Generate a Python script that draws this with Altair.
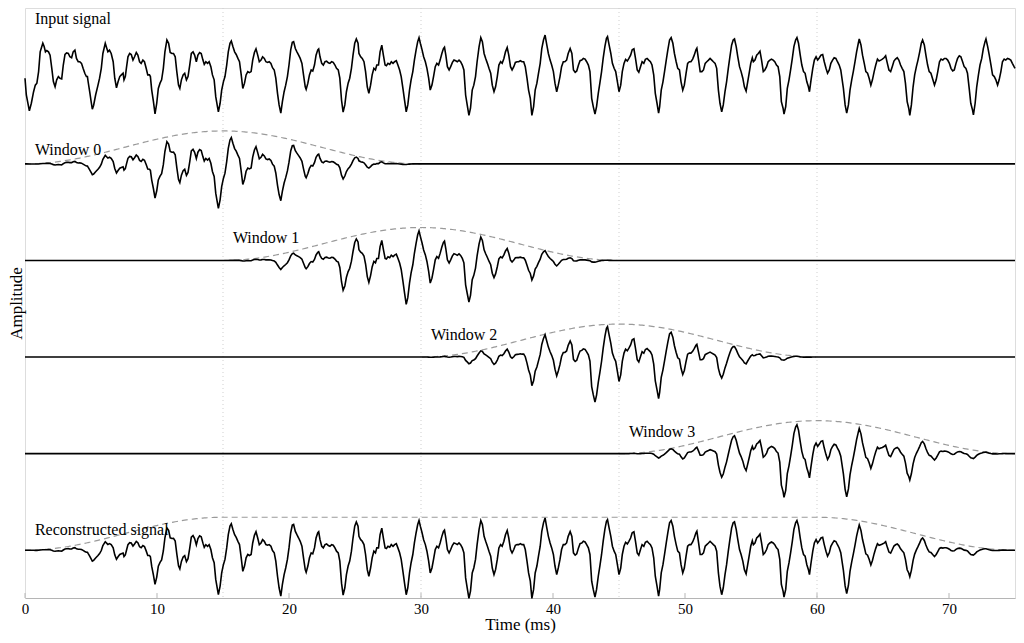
import altair as alt
import numpy as np
import pandas as pd

# ---- data (time in ms, amplitude in window-peak units) ----
t_ms = [
    0, 0.1, 0.33, 0.48, 0.65, 0.78, 0.9, 1.03, 1.15, 1.35,
    1.45, 1.55, 1.65, 1.78, 1.9, 2.03, 2.15, 2.28, 2.4, 2.53,
    2.65, 2.78, 2.9, 3.03, 3.15, 3.28, 3.4, 3.53, 3.65, 3.78,
    3.9, 4.03, 4.15, 4.28, 4.4, 4.53, 4.65, 4.73, 4.78, 4.9,
    5.03, 5.1, 5.2, 5.35, 5.53, 5.65, 5.78, 5.9, 6.08, 6.2,
    6.28, 6.4, 6.53, 6.68, 6.8, 6.93, 7.05, 7.18, 7.3, 7.43,
    7.5, 7.6, 7.68, 7.8, 7.93, 8.05, 8.18, 8.3, 8.43, 8.55,
    8.68, 8.8, 8.93, 9.05, 9.18, 9.3, 9.43, 9.5, 9.6, 9.73,
    9.85, 9.98, 10.1, 10.23, 10.35, 10.48, 10.6, 10.75, 10.88, 11.0,
    11.13, 11.25, 11.38, 11.5, 11.63, 11.73, 11.85, 11.98, 12.1, 12.23,
    12.35, 12.48, 12.6, 12.73, 12.85, 12.98, 13.1, 13.23, 13.35, 13.48,
    13.58, 13.7, 13.83, 13.95, 14.08, 14.2, 14.33, 14.45, 14.58, 14.65,
    14.78, 14.9, 15.03, 15.15, 15.28, 15.4, 15.53, 15.63, 15.75, 15.88,
    16.0, 16.13, 16.25, 16.38, 16.5, 16.63, 16.75, 16.88, 17.0, 17.13,
    17.25, 17.38, 17.5, 17.63, 17.75, 17.88, 18.0, 18.13, 18.25, 18.38,
    18.5, 18.63, 18.75, 18.88, 19.0, 19.13, 19.25, 19.38, 19.5, 19.63,
    19.75, 19.88, 20.0, 20.13, 20.25, 20.35, 20.48, 20.6, 20.73, 20.85,
    20.98, 21.1, 21.23, 21.3, 21.43, 21.55, 21.68, 21.8, 21.93, 22.05,
    22.18, 22.25, 22.35, 22.48, 22.6, 22.73, 22.85, 22.98, 23.1, 23.23,
    23.35, 23.48, 23.6, 23.73, 23.85, 23.98, 24.1, 24.23, 24.35, 24.48,
    24.6, 24.73, 24.85, 24.98, 25.1, 25.23, 25.3, 25.43, 25.55, 25.68,
    25.8, 25.93, 26.05, 26.18, 26.3, 26.43, 26.55, 26.65, 26.78, 26.9,
    27.03, 27.15, 27.28, 27.38, 27.5, 27.63, 27.75, 27.88, 28.0, 28.13,
    28.25, 28.38, 28.5, 28.63, 28.75, 28.88, 29.0, 29.13, 29.25, 29.38,
    29.5, 29.63, 29.75, 29.85, 29.95, 30.08, 30.2, 30.33, 30.45, 30.58,
    30.7, 30.83, 30.95, 31.08, 31.2, 31.33, 31.45, 31.58, 31.7, 31.78,
    31.88, 32.0, 32.13, 32.25, 32.38, 32.5, 32.63, 32.75, 32.88, 33.0,
    33.13, 33.25, 33.38, 33.5, 33.63, 33.75, 33.88, 34.0, 34.13, 34.25,
    34.4, 34.53, 34.65, 34.78, 34.9, 35.03, 35.15, 35.28, 35.4, 35.53,
    35.65, 35.78, 35.9, 36.03, 36.15, 36.28, 36.4, 36.53, 36.65, 36.78,
    36.9, 37.03, 37.15, 37.28, 37.4, 37.53, 37.65, 37.78, 37.9, 38.03,
    38.15, 38.28, 38.4, 38.53, 38.65, 38.78, 38.9, 39.03, 39.15, 39.28,
    39.4, 39.53, 39.65, 39.78, 39.9, 40.03, 40.15, 40.28, 40.4, 40.53,
    40.65, 40.78, 40.9, 41.03, 41.15, 41.3, 41.43, 41.55, 41.68, 41.8,
    41.93, 42.05, 42.18, 42.3, 42.43, 42.55, 42.68, 42.8, 42.93, 43.05,
    43.18, 43.3, 43.43, 43.55, 43.68, 43.8, 43.93, 44.05, 44.13, 44.25,
    44.38, 44.5, 44.63, 44.75, 44.88, 45.0, 45.13, 45.25, 45.38, 45.5,
    45.63, 45.75, 45.88, 46.0, 46.13, 46.25, 46.38, 46.5, 46.63, 46.75,
    46.88, 47.0, 47.13, 47.25, 47.38, 47.5, 47.63, 47.75, 47.88, 48.0,
    48.08, 48.2, 48.33, 48.45, 48.58, 48.7, 48.83, 48.95, 49.08, 49.2,
    49.33, 49.45, 49.58, 49.7, 49.83, 49.95, 50.08, 50.2, 50.33, 50.45,
    50.58, 50.7, 50.83, 50.9, 51.03, 51.15, 51.28, 51.4, 51.53, 51.65,
    51.78, 51.9, 52.03, 52.15, 52.28, 52.4, 52.53, 52.65, 52.78, 52.9,
    53.03, 53.15, 53.28, 53.4, 53.53, 53.65, 53.75, 53.88, 54.0, 54.13,
    54.25, 54.38, 54.5, 54.63, 54.75, 54.88, 54.98, 55.1, 55.18, 55.3,
    55.43, 55.55, 55.68, 55.8, 55.93, 56.05, 56.18, 56.3, 56.43, 56.55,
    56.68, 56.8, 56.93, 57.05, 57.18, 57.3, 57.43, 57.5, 57.63, 57.75,
    57.88, 58.0, 58.13, 58.25, 58.38, 58.48, 58.6, 58.73, 58.85, 58.98,
    59.1, 59.23, 59.35, 59.43, 59.55, 59.68, 59.8, 59.93, 60.05, 60.18,
    60.3, 60.43, 60.55, 60.68, 60.8, 60.93, 61.05, 61.18, 61.3, 61.43,
    61.55, 61.68, 61.8, 62.0, 62.13, 62.25, 62.38, 62.5, 62.63, 62.75,
    62.88, 63.0, 63.13, 63.2, 63.33, 63.45, 63.58, 63.7, 63.83, 63.95,
    64.08, 64.2, 64.33, 64.45, 64.58, 64.7, 64.83, 64.95, 65.08, 65.2,
    65.33, 65.45, 65.58, 65.7, 65.83, 65.95, 66.08, 66.2, 66.33, 66.45,
    66.58, 66.7, 66.83, 66.95, 67.03, 67.15, 67.28, 67.4, 67.53, 67.65,
    67.78, 67.9, 68.0, 68.13, 68.25, 68.38, 68.5, 68.63, 68.78, 68.9,
    69.03, 69.15, 69.28, 69.4, 69.53, 69.65, 69.78, 69.9, 70.03, 70.15,
    70.28, 70.4, 70.53, 70.65, 70.78, 70.9, 71.03, 71.15, 71.28, 71.4,
    71.53, 71.65, 71.78, 71.85, 71.98, 72.1, 72.23, 72.35, 72.48, 72.6,
    72.73, 72.8, 72.93, 73.05, 73.18, 73.3, 73.43, 73.55, 73.68, 73.8,
    73.93, 74.05, 74.18, 74.3, 74.43, 74.55, 74.68, 74.8, 74.93, 75.0,
]

amplitude = [
    -0.33, -0.84, -1.32, -1.09, -0.74, -0.54, -0.48, -0.13, 0.47, 0.73,
    0.63, 0.47, 0.51, 0.47, 0.37, -0.03, -0.43, -0.59, -0.38, -0.28,
    -0.33, -0.35, 0.07, 0.39, 0.44, 0.42, 0.32, 0.29, 0.47, 0.52,
    0.27, 0.17, 0.17, 0.12, -0.03, -0.18, -0.28, -0.28, -0.43, -0.74,
    -1.09, -1.27, -1.15, -0.84, -0.54, -0.33, -0.03, 0.42, 0.73, 0.57,
    0.47, 0.52, 0.42, 0.17, -0.33, -0.62, -0.44, -0.28, -0.23, -0.18,
    -0.38, -0.28, -0.03, 0.32, 0.42, 0.39, 0.22, 0.32, 0.45, 0.37,
    0.17, 0.12, 0.22, 0.17, -0.03, -0.23, -0.23, -0.28, -0.69, -1.04,
    -1.41, -1.09, -0.64, -0.48, -0.38, -0.03, 0.47, 0.83, 0.73, 0.45,
    0.42, 0.42, 0.32, -0.13, -0.54, -0.64, -0.38, -0.23, -0.18, -0.38,
    -0.28, 0.07, 0.42, 0.47, 0.37, 0.17, 0.37, 0.45, 0.42, 0.22,
    0.09, 0.17, 0.12, 0.17, 0.02, -0.23, -0.38, -0.89, -1.19, -1.35,
    -1.09, -0.69, -0.44, -0.28, 0.07, 0.47, 0.73, 0.80, 0.63, 0.47,
    0.39, 0.27, 0.17, -0.23, -0.64, -0.48, -0.23, -0.13, -0.16, -0.13,
    0.22, 0.45, 0.56, 0.37, 0.17, 0.22, 0.32, 0.27, 0.17, 0.15,
    0.17, 0.12, -0.01, -0.08, -0.33, -0.79, -1.14, -1.39, -1.04, -0.74,
    -0.54, -0.28, 0.07, 0.53, 0.76, 0.78, 0.57, 0.47, 0.37, 0.27,
    0.12, -0.23, -0.59, -0.67, -0.48, -0.23, -0.08, -0.11, 0.07, 0.37,
    0.53, 0.56, 0.32, 0.12, 0.07, 0.17, 0.19, 0.14, 0.12, 0.17,
    0.15, 0.07, -0.03, -0.08, -0.33, -1.0, -1.36, -1.14, -0.74, -0.48,
    -0.33, -0.03, 0.37, 0.73, 0.86, 0.73, 0.42, 0.32, 0.27, 0.17,
    -0.13, -0.59, -0.79, -0.54, -0.23, -0.03, -0.08, 0.07, 0.07, 0.47,
    0.67, 0.37, 0.07, 0.05, 0.12, 0.09, 0.17, 0.12, 0.17, 0.20,
    0.07, -0.08, -0.28, -0.64, -0.99, -1.35, -1.14, -0.69, -0.38, -0.13,
    0.22, 0.53, 0.78, 0.90, 0.73, 0.53, 0.32, 0.17, -0.03, -0.33,
    -0.69, -0.54, -0.28, 0.02, 0.12, 0.07, 0.22, 0.42, 0.57, 0.61,
    0.37, 0.02, -0.08, 0.02, 0.15, 0.22, 0.20, 0.17, 0.22, 0.17,
    0.07, -0.08, -0.84, -1.14, -1.46, -1.24, -0.69, -0.54, -0.28, 0.17,
    0.63, 0.90, 0.78, 0.42, 0.27, 0.12, -0.03, -0.18, -0.54, -0.74,
    -0.59, -0.28, 0.07, 0.17, 0.12, 0.27, 0.47, 0.60, 0.37, 0.02,
    -0.08, 0.02, 0.15, 0.17, 0.17, 0.20, 0.17, 0.17, 0.02, -0.33,
    -0.69, -0.94, -1.46, -1.19, -0.69, -0.48, -0.18, 0.12, 0.57, 0.83,
    0.98, 0.68, 0.42, 0.22, 0.07, -0.13, -0.48, -0.74, -0.54, -0.28,
    0.02, 0.17, 0.17, 0.22, 0.42, 0.57, 0.42, -0.08, -0.15, -0.11,
    0.07, 0.20, 0.22, 0.27, 0.25, 0.17, 0.07, -0.13, -0.94, -1.19,
    -1.42, -1.19, -0.79, -0.48, -0.13, 0.27, 0.63, 0.88, 0.93, 0.68,
    0.42, 0.12, -0.03, -0.13, -0.44, -0.74, -0.54, -0.13, 0.12, 0.24,
    0.19, 0.27, 0.37, 0.53, 0.56, 0.27, -0.08, -0.15, 0.02, 0.17,
    0.12, 0.24, 0.27, 0.22, 0.17, 0.07, -0.23, -0.79, -1.09, -1.39,
    -1.19, -0.69, -0.44, -0.13, 0.22, 0.53, 0.83, 0.90, 0.73, 0.42,
    0.17, -0.03, -0.08, -0.44, -0.69, -0.54, -0.18, 0.12, 0.17, 0.17,
    0.25, 0.37, 0.53, 0.58, 0.22, -0.13, -0.13, -0.08, 0.12, 0.17,
    0.22, 0.27, 0.22, 0.17, 0.12, -0.03, -0.69, -1.09, -1.35, -1.14,
    -0.74, -0.44, -0.03, 0.32, 0.67, 0.83, 0.86, 0.63, 0.32, 0.02,
    -0.13, -0.33, -0.59, -0.72, -0.44, -0.13, 0.12, 0.29, 0.17, 0.22,
    0.37, 0.42, 0.49, 0.22, -0.13, -0.08, 0.02, 0.17, 0.22, 0.25,
    0.22, 0.17, 0.07, 0.02, -0.28, -1.04, -1.24, -1.42, -1.19, -0.64,
    -0.38, -0.08, 0.27, 0.63, 0.83, 0.90, 0.73, 0.37, 0.07, -0.13,
    -0.18, -0.44, -0.59, -0.74, -0.38, -0.03, 0.22, 0.32, 0.22, 0.29,
    0.37, 0.39, 0.17, -0.03, -0.18, -0.08, 0.12, 0.22, 0.29, 0.27,
    0.17, 0.07, -0.08, -0.64, -1.14, -1.39, -1.14, -0.69, -0.38, -0.13,
    0.17, 0.47, 0.73, 0.86, 0.68, 0.37, 0.12, -0.13, -0.18, -0.33,
    -0.54, -0.38, -0.13, 0.07, 0.25, 0.19, 0.22, 0.25, 0.29, 0.35,
    0.12, -0.08, -0.13, 0.02, 0.19, 0.25, 0.29, 0.22, 0.07, -0.03,
    -0.13, -0.48, -1.04, -1.24, -1.46, -1.14, -0.59, -0.23, 0.02, 0.22,
    0.47, 0.73, 0.83, 0.68, 0.37, 0.07, -0.13, -0.18, -0.38, -0.54,
    -0.38, -0.13, 0.17, 0.25, 0.22, 0.27, 0.27, 0.22, 0.12, -0.03,
    -0.11, -0.08, 0.12, 0.27, 0.35, 0.32, 0.17, 0.02, -0.03, -0.18,
    -0.64, -1.09, -1.29, -1.44, -1.09, -0.59, -0.23, 0.07, 0.27, 0.57,
    0.78, 0.86, 0.63, 0.37, 0.07, -0.23, -0.28, -0.38, -0.54, -0.38,
    -0.13, 0.17, 0.25, 0.22, 0.27, 0.25, 0.22, 0.12, 0.02, -0.03,
]

row_names = ["Input signal", "Window 0", "Window 1", "Window 2", "Window 3",
             "Reconstructed signal"]
window_starts = [0, 15, 30, 45]      # ms
window_length = 30                   # ms (Hann, 50 % overlap)
gridline_times = [15, 30, 45, 60]
x_tick_values = [0, 10, 20, 30, 40, 50, 60, 70]

assert len(t_ms) == len(amplitude)

# ---- layout (not data) ----
ROW_GAP = 2.93
Y_DOMAIN = [-16.10, 1.80]
FONT = "Liberation Serif"
offsets = [-i * ROW_GAP for i in range(len(row_names))]
label_pos = {  # (time, height above row baseline)
    "Input signal": (0.75, 1.48),
    "Window 0": (0.75, 0.42),
    "Window 1": (15.75, 0.68),
    "Window 2": (30.75, 0.66),
    "Window 3": (45.75, 0.66),
    "Reconstructed signal": (0.75, 0.60),
}

# ---- build tables ----
t = np.array(t_ms, dtype=float)
a = np.array(amplitude, dtype=float)


def hann(tt, start):
    u = (tt - start) / window_length
    w = 0.5 - 0.5 * np.cos(2 * np.pi * u)
    return np.where((u >= 0) & (u <= 1), w, 0.0)


sig_frames = [pd.DataFrame({"t": t, "y": a + offsets[0], "row": row_names[0]})]
env_frames = []
total_w = np.zeros_like(t)
for k, s in enumerate(window_starts):
    w = hann(t, s)
    total_w = total_w + w
    sig_frames.append(pd.DataFrame({"t": t, "y": a * w + offsets[k + 1], "row": row_names[k + 1]}))
    inside = (t >= s) & (t <= s + window_length)
    env_frames.append(pd.DataFrame({"t": t[inside], "y": w[inside] + offsets[k + 1], "row": row_names[k + 1]}))
sig_frames.append(pd.DataFrame({"t": t, "y": a * total_w + offsets[5], "row": row_names[5]}))
env_frames.append(pd.DataFrame({"t": t, "y": total_w + offsets[5], "row": row_names[5]}))

signal_df = pd.concat(sig_frames, ignore_index=True)
env_df = pd.concat(env_frames, ignore_index=True)
labels_df = pd.DataFrame({
    "label": row_names,
    "t": [label_pos[n][0] for n in row_names],
    "y": [offsets[i] + label_pos[n][1] for i, n in enumerate(row_names)],
})
grid_df = pd.DataFrame({"t": gridline_times})
ticks_df = pd.DataFrame({"t": x_tick_values, "y": Y_DOMAIN[0], "y1": Y_DOMAIN[0] + 0.15})

x_scale = alt.Scale(domain=[0, 75], nice=False, zero=False)
y_scale = alt.Scale(domain=Y_DOMAIN, nice=False, zero=False)
x_axis = alt.Axis(
    values=x_tick_values, title="Time (ms)", grid=False, ticks=False, labelFlush=False,
    labelFont=FONT, labelFontSize=15, labelColor="black", labelPadding=3,
    titleFont=FONT, titleFontSize=17, titleFontWeight="normal", titleColor="black",
    titlePadding=0, domainColor="#b5b5b5")
y_axis = alt.Axis(
    title="Amplitude", labels=False, ticks=False, domain=False, grid=False,
    titleFont=FONT, titleFontSize=17, titleFontWeight="normal", titleColor="black",
    titleBaseline="alphabetic", titlePadding=4)
x_enc = alt.X("t:Q", scale=x_scale, axis=x_axis)
y_enc = alt.Y("y:Q", scale=y_scale, axis=y_axis)

grid = alt.Chart(grid_df).mark_rule(color="#cfcfcf", strokeDash=[1, 3], strokeWidth=1).encode(x=x_enc)
ticks = alt.Chart(ticks_df).mark_rule(color="#b5b5b5", strokeWidth=1).encode(
    x=x_enc, y=y_enc, y2="y1:Q")
envelopes = alt.Chart(env_df).mark_line(color="#9a9a9a", strokeDash=[6, 4], strokeWidth=1.2).encode(
    x=x_enc, y=y_enc, detail="row:N", order="t:Q")
signals = alt.Chart(signal_df).mark_line(color="black", strokeWidth=1.6).encode(
    x=x_enc, y=y_enc, detail="row:N", order="t:Q")
labels = alt.Chart(labels_df).mark_text(align="left", baseline="middle", font=FONT,
                                        fontSize=16, color="black").encode(
    x=x_enc, y=y_enc, text="label:N")

chart = alt.layer(grid, ticks, envelopes, signals, labels).properties(
    width=990, height=590,
    autosize=alt.AutoSizeParams(type="none"),
    padding={"left": 17, "top": 0, "right": 1, "bottom": 37},
).configure_view(stroke="#b5b5b5", strokeWidth=1).configure(background="white")

chart.save("out.html", embed_options={"renderer": "svg", "actions": False})
